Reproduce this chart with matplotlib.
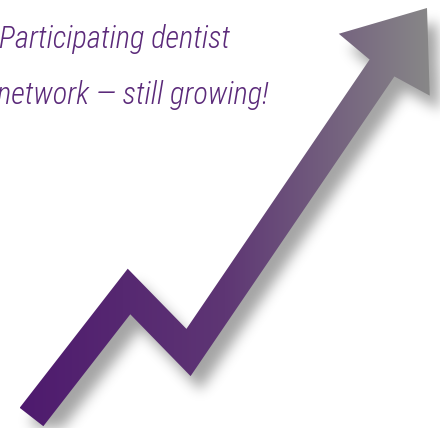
import numpy as np
import matplotlib
matplotlib.use("Agg")
import matplotlib.pyplot as plt
from matplotlib.path import Path
from matplotlib.patches import PathPatch
from matplotlib.colors import LinearSegmentedColormap
from matplotlib import font_manager

# ---- data: arrow centerline (pixel space) ----
line_x = [31.5, 129.0, 188.5, 382.0]
line_y = [417.0, 291.5, 352.5, 68.0]
head_tip = (427.0, 8.0)
title_lines = ["Participating dentist", "network \u2014 still growing!"]

W, H = 440, 428
half_w = 15.0
head_half = 55.0
head_fwd = 4.0

def outline(xs, ys, hw):
    P = np.column_stack([xs, ys]).astype(float)
    n = len(P)
    dirs = [(P[i + 1] - P[i]) / np.linalg.norm(P[i + 1] - P[i]) for i in range(n - 1)]
    norms = [np.array([-d[1], d[0]]) for d in dirs]
    left, right = [], []
    for i in range(n):
        if i == 0:
            m = norms[0]; s = 1.0
        elif i == n - 1:
            m = norms[-1]; s = 1.0
        else:
            m = norms[i - 1] + norms[i]
            m = m / np.linalg.norm(m)
            s = 1.0 / np.dot(m, norms[i])
        left.append(P[i] + m * hw * s)
        right.append(P[i] - m * hw * s)
    u = dirs[-1]; nn = norms[-1]
    base = P[-1]
    tip = np.array(head_tip)
    headpts = [left[-1],
               base + nn * head_half + u * head_fwd,
               tip,
               base - nn * head_half + u * head_fwd,
               right[-1]]
    pts = left[:-1] + headpts + right[:-1][::-1]
    return np.array(pts)

poly = outline(line_x, line_y, half_w)

fig = plt.figure(figsize=(W / 100, H / 100), dpi=100)
ax = fig.add_axes([0, 0, 1, 1])
ax.set_xlim(0, W)
ax.set_ylim(H, 0)
ax.axis("off")

# ---- shadow ----
gx, gy = np.meshgrid(np.arange(W) + 0.5, np.arange(H) + 0.5)
shift = np.array([10.0, 14.0])
mask = Path(poly + shift).contains_points(np.column_stack([gx.ravel(), gy.ravel()])).reshape(H, W).astype(float)
sig = 6.5
k = np.arange(-22, 23)
kern = np.exp(-k ** 2 / (2 * sig ** 2)); kern /= kern.sum()
pad = 30
mp = np.pad(mask, pad)
mp = np.apply_along_axis(lambda r: np.convolve(r, kern, mode="same"), 1, mp)
mp = np.apply_along_axis(lambda c: np.convolve(c, kern, mode="same"), 0, mp)
mask = mp[pad:-pad, pad:-pad]
shadow = np.zeros((H, W, 4))
shadow[..., 3] = mask * 0.36
ax.imshow(shadow, extent=(0, W, H, 0), interpolation="bilinear", zorder=1)

# ---- gradient arrow ----
cmap = LinearSegmentedColormap.from_list("arr", ["#4e1a6e", "#5e3674", "#888888"], N=256)
grad = np.tile(np.linspace(0, 1, 256), (2, 1))
x0, x1 = poly[:, 0].min(), poly[:, 0].max()
patch = PathPatch(Path(np.vstack([poly, poly[:1]]), closed=True), facecolor="none", edgecolor="none")
ax.add_patch(patch)
im = ax.imshow(grad, cmap=cmap, extent=(x0, x1, H, 0), aspect="auto", interpolation="bilinear", zorder=2)
im.set_clip_path(patch)
ax.set_xlim(0, W)
ax.set_ylim(H, 0)

# ---- text ----
names = {f.name for f in font_manager.fontManager.ttflist}
fam = next((f for f in ["Roboto Condensed", "Archivo Narrow", "Liberation Sans"] if f in names), "DejaVu Sans")
t1 = ax.text(-1, 48, title_lines[0], fontsize=20, style="italic", weight="light", family=fam,
             color="#5b2a7a", va="baseline", ha="left", zorder=3)
t2 = ax.text(-3, 104, title_lines[1], fontsize=20, style="italic", weight="light", family=fam,
             color="#5b2a7a", va="baseline", ha="left", zorder=3)
# fit the second line's width to the reference (~281 px)
r = fig.canvas.get_renderer()
w2 = t2.get_window_extent(r).width
fs = min(20 * 281.0 / w2, 22)
t1.set_fontsize(fs)
t2.set_fontsize(fs)

fig.savefig("out.png", dpi=100)
